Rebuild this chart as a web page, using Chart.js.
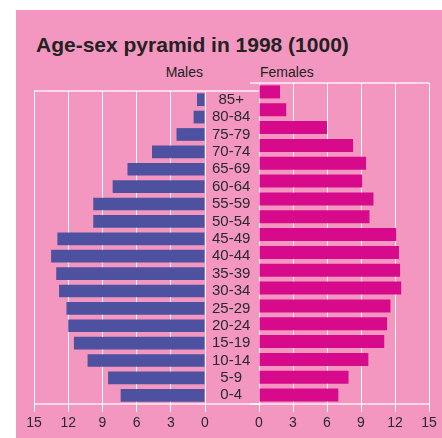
<!DOCTYPE html>
<html>
<head>
<meta charset="utf-8">
<script src="https://cdn.jsdelivr.net/npm/chart.js@4/dist/chart.umd.min.js"></script>
<style>
  body { margin: 0; background: #fff; }
  #wrap { position: absolute; left: 16px; top: 10px; width: 426px; height: 428px; background: #f397c0; }
  .txt { position: absolute; font-family: "Liberation Sans", Arial, sans-serif; color: #222; white-space: nowrap; }
  #title { left: 36px; top: 33px; font-size: 21px; font-weight: bold; line-height: 24px; }
  #males { left: 100px; width: 103px; text-align: right; top: 64px; font-size: 14px; line-height: 16px; }
  #females { left: 260px; top: 64px; font-size: 14px; line-height: 16px; }
  canvas { position: absolute; top: 75px; }
  #left { left: 16px; }
  #right { left: 250px; }
</style>
</head>
<body>
<div id="wrap"></div>
<div class="txt" id="title">Age-sex pyramid in 1998 (1000)</div>
<div class="txt" id="males">Males</div>
<div class="txt" id="females">Females</div>
<canvas id="left" width="243" height="363"></canvas>
<canvas id="right" width="192" height="363"></canvas>
<script>
    const ages = ['0-4', '5-9', '10-14', '15-19', '20-24', '25-29', '30-34', '35-39', '40-44',
                  '45-49', '50-54', '55-59', '60-64', '65-69', '70-74', '75-79', '80-84', '85+'];
    const males = [7.4, 8.5, 10.3, 11.5, 12.0, 12.15, 12.8, 13.05, 13.5,
                   12.95, 9.8, 9.8, 8.1, 6.8, 4.65, 2.5, 1.0, 0.7];
    const females = [7.0, 7.9, 9.65, 11.05, 11.3, 11.6, 12.55, 12.45, 12.35,
                     12.1, 9.75, 10.1, 9.1, 9.45, 8.3, 6.0, 2.4, 1.85];
    const xTicks = [0, 3, 6, 9, 12, 15];

    const fontFamily = '"Liberation Sans", Arial, sans-serif';
    const gridColor = '#ffffff';

    // top and bottom frame lines, the left chart carries them across the age labels
    const frameLines = {
        id: 'frameLines',
        beforeDatasetsDraw(chart, args, opts) {
            const { ctx, chartArea } = chart;
            const x0 = opts.fromZero ? 0 : chartArea.left;
            const x1 = opts.toEdge ? chart.width : chartArea.right;
            ctx.save();
            ctx.strokeStyle = 'rgba(255,255,255,0.85)';
            ctx.lineWidth = 1.5;
            ctx.beginPath();
            ctx.moveTo(x0, chartArea.top);
            ctx.lineTo(x1, chartArea.top);
            ctx.moveTo(x0, chartArea.bottom);
            ctx.lineTo(x1, chartArea.bottom);
            ctx.stroke();
            ctx.restore();
        }
    };

    function xScale(reverse) {
        return {
            type: 'linear',
            min: 0,
            max: 15,
            reverse: reverse,
            afterBuildTicks: axis => { axis.ticks = xTicks.map(v => ({ value: v })); },
            afterFit: axis => { axis.height = 34; },
            grid: { color: gridColor, lineWidth: 1, tickLength: 8, drawTicks: true },
            border: { display: false },
            ticks: { color: '#2a2a2a', padding: 3, font: { family: fontFamily, size: 14 } }
        };
    }

    function makeChart(id, data, color, left) {
        const ctx = document.getElementById(id).getContext('2d');
        const yScale = {
            type: 'category',
            reverse: true,
            display: left,
            position: 'right',
            grid: { display: false, drawTicks: false },
            border: { display: false },
            ticks: {
                autoSkip: false,
                crossAlign: 'center',
                padding: 7,
                color: '#2a2a2a',
                font: { family: fontFamily, size: 15 }
            }
        };
        if (left) yScale.afterFit = axis => { axis.width = 54; };

        return new Chart(ctx, {
            type: 'bar',
            data: {
                labels: ages,
                datasets: [{
                    data: data,
                    backgroundColor: color,
                    borderWidth: 0,
                    barPercentage: 0.73,
                    categoryPercentage: 1
                }]
            },
            options: {
                indexAxis: 'y',
                responsive: false,
                animation: false,
                events: [],
                layout: { padding: left ? { left: 18, right: 0, top: 8, bottom: 0 }
                                        : { left: 9, right: 13, top: 8, bottom: 0 } },
                plugins: {
                    legend: { display: false },
                    tooltip: { enabled: false },
                    frameLines: { fromZero: !left, toEdge: left }
                },
                scales: {
                    x: xScale(left),
                    y: yScale
                }
            },
            plugins: [frameLines]
        });
    }

    makeChart('left', males, '#4e50a0', true);
    makeChart('right', females, '#d60a8a', false);
</script>
</body>
</html>
